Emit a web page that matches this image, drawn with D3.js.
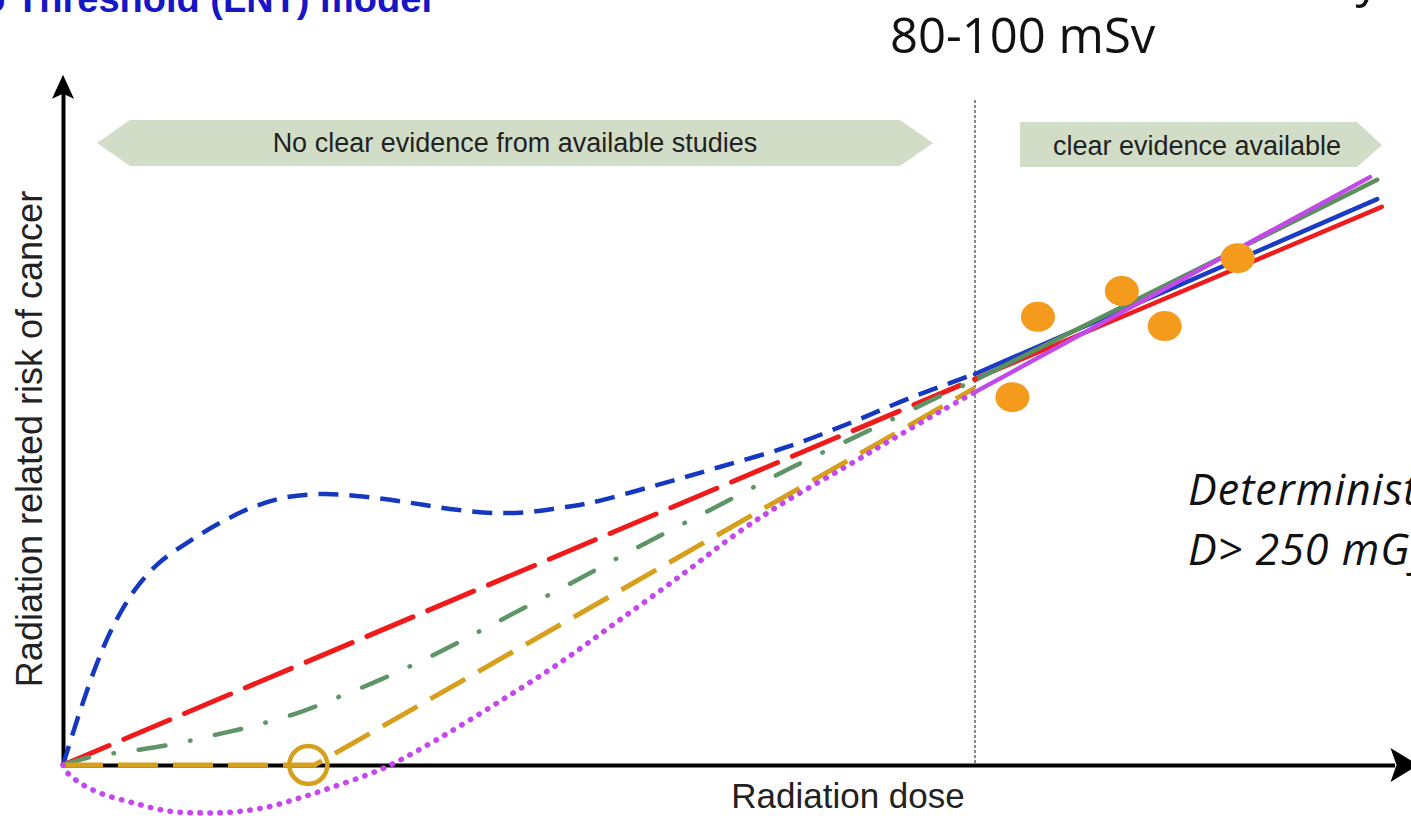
<!DOCTYPE html>
<html>
<head>
<meta charset="utf-8">
<script src="https://cdn.jsdelivr.net/npm/d3@7"></script>
<style>
body { margin: 0; background: #fff; }
svg { display: block; }
</style>
</head>
<body>
<script>
const WIDTH = 1411;
const HEIGHT = 816;

// low-dose models (dashed part, dose 0..100)
var blueDose = [0, 1.9, 3.7, 5.2, 6.8, 8.4, 10.6, 13.9, 17.2, 20.8, 24.6, 28.5, 32.2, 35.9, 39.5, 43.2, 47.1, 50.9, 54.5, 57.8, 65.1, 72, 79.4, 86.3, 92.9, 100];
var blueRisk = [0, 14.2, 26.2, 34.5, 41.5, 47, 52.5, 58, 62.7, 66.8, 69.4, 70.2, 69.7, 68.7, 67.4, 66.1, 65.3, 65.5, 66.6, 67.9, 72.5, 77.2, 82.4, 88.6, 95.1, 101.3];
var redDose = [0, 100];
var redRisk = [0, 100];
var greenDose = [0, 3, 7.3, 12.1, 16.7, 21.3, 26, 30, 34.5, 38.6, 42.8, 47, 55.3, 63.5, 71.8, 80, 88.5, 96.9, 100];
var greenRisk = [0, 2.1, 3.6, 5.4, 7.8, 10.4, 13.7, 17.4, 21.8, 26.2, 31.1, 36.3, 46.6, 57, 67.1, 77.2, 86.8, 96.4, 99.6];
var goldDose = [0, 27.6, 100];
var goldRisk = [0, 0, 97.7];
var purpleDose = [0, 0.4, 1.9, 4.1, 7.7, 11.4, 15, 18.6, 22.4, 26, 29.6, 33.3, 35.9, 41.3, 47.9, 54.5, 60.7, 67.7, 74.2, 79.4, 86, 91, 96.5, 100];
var purpleRisk = [0, -1.8, -4.7, -7.3, -9.8, -11.9, -12.4, -12.2, -10.9, -8.5, -5.7, -2.6, 0, 7, 16.5, 26.5, 37, 49, 60.5, 68.5, 77.5, 84.5, 92, 96.6];
var thresholdDose = 26.9;

// high-dose fits (solid part)
var blueHighDose = [100, 144.1];
var blueHighRisk = [101.3, 146.6];
var redHighDose = [100, 144.6];
var redHighRisk = [100, 144.6];
var greenHighDose = [100, 144.1];
var greenHighRisk = [99.7, 151.6];
var purpleHighDose = [100, 143.3];
var purpleHighRisk = [96.6, 152.3];

// observed data points
var pointDose = [104.1, 106.9, 116.1, 120.8, 128.8];
var pointRisk = [95.3, 116.1, 122.8, 113.7, 131.3];

var evidenceDose = 100;
var bannerLabels = ['No clear evidence from available studies', 'clear evidence available'];

var svg = d3.select('body').append('svg')
    .attr('width', WIDTH)
    .attr('height', HEIGHT)
    .style('background', '#fff');

var xScale = d3.scaleLinear()
    .domain([0, 146])
    .range([63, 63 + 146 * 9.12]);
var yScale = d3.scaleLinear()
    .domain([0, 176])
    .range([765, 765 - 176 * 3.86]);

var makeLine = function (curve) {
    return d3.line()
        .x(function (d) { return xScale(d[0]); })
        .y(function (d) { return yScale(d[1]); })
        .curve(curve);
};

// header texts
svg.append('text')
    .attr('x', 432)
    .attr('y', 12)
    .attr('text-anchor', 'end')
    .attr('font-family', 'Liberation Sans, Arial, sans-serif')
    .attr('font-weight', 'bold')
    .attr('font-size', 38)
    .attr('fill', '#1616c4')
    .text('Linear No Threshold (LNT) model');
svg.append('text')
    .attr('x', 1380)
    .attr('y', -4)
    .attr('text-anchor', 'end')
    .attr('font-family', 'Open Sans, sans-serif')
    .attr('font-size', 49)
    .attr('fill', '#111')
    .text('uncertainty');
svg.append('text')
    .attr('x', 890)
    .attr('y', 53)
    .attr('font-family', 'Open Sans, sans-serif')
    .attr('font-size', 49)
    .attr('fill', '#111')
    .text('80-100 mSv');

// banners
var bTop = 120, bBot = 166, bMid = 143;
var leftBanner = [[97, bMid], [130, bTop], [900, bTop], [933, bMid], [900, bBot], [130, bBot]];
var rightBanner = [[1020, bTop + 2], [1357, bTop + 2], [1382, bMid + 2], [1357, bBot + 1], [1020, bBot + 1]];
svg.selectAll('path.banner')
    .data([leftBanner, rightBanner])
    .enter()
    .append('path')
    .classed('banner', true)
    .attr('d', function (d) { return 'M' + d.join('L') + 'Z'; })
    .attr('fill', '#d2ddc7');
svg.selectAll('text.banner')
    .data(bannerLabels)
    .enter()
    .append('text')
    .classed('banner', true)
    .attr('x', function (d, i) { return i === 0 ? 515 : 1197; })
    .attr('y', function (d, i) { return i === 0 ? 152 : 155; })
    .attr('text-anchor', 'middle')
    .attr('font-family', 'Liberation Sans, Arial, sans-serif')
    .attr('font-size', 27)
    .attr('fill', '#222')
    .text(function (d) { return d; });

// evidence boundary
svg.append('line')
    .attr('x1', xScale(evidenceDose))
    .attr('x2', xScale(evidenceDose))
    .attr('y1', 100)
    .attr('y2', yScale(0))
    .attr('stroke', '#888')
    .attr('stroke-width', 2)
    .attr('stroke-dasharray', '3,2');

// axes
svg.append('g')
    .attr('transform', 'translate(0,' + yScale(0) + ')')
    .call(d3.axisBottom(xScale).tickValues([]).tickSizeOuter(0));
svg.append('g')
    .attr('transform', 'translate(' + xScale(0) + ',0)')
    .call(d3.axisLeft(yScale).tickValues([]).tickSizeOuter(0));
svg.selectAll('.domain')
    .attr('stroke', '#000')
    .attr('stroke-width', 4);
svg.append('path')
    .attr('d', 'M0,0L11,24L0,19L-11,24Z')
    .attr('transform', 'translate(' + xScale(0) + ',' + (yScale(176) - 11) + ')')
    .attr('fill', '#000');
svg.append('path')
    .attr('d', 'M0,0L-28,-17L-22,0L-28,17Z')
    .attr('transform', 'translate(' + (xScale(146) + 24) + ',' + yScale(0) + ')')
    .attr('fill', '#000');

// axis titles
svg.append('text')
    .attr('x', 848)
    .attr('y', 808)
    .attr('text-anchor', 'middle')
    .attr('font-family', 'Liberation Sans, Arial, sans-serif')
    .attr('font-size', 35)
    .attr('fill', '#222')
    .text('Radiation dose');
svg.append('text')
    .attr('transform', 'translate(42,439) rotate(-90)')
    .attr('text-anchor', 'middle')
    .attr('font-family', 'Liberation Sans, Arial, sans-serif')
    .attr('font-size', 36)
    .attr('fill', '#222')
    .text('Radiation related risk of cancer');

// solid high-dose lines
var solid = [
    {d: redHighDose, r: redHighRisk, c: '#ee1c1c'},
    {d: blueHighDose, r: blueHighRisk, c: '#1a3cc4'},
    {d: greenHighDose, r: greenHighRisk, c: '#5c8f5e'},
    {d: purpleHighDose, r: purpleHighRisk, c: '#c24ae8'}
];
svg.selectAll('path.solid')
    .data(solid)
    .enter()
    .append('path')
    .classed('solid', true)
    .attr('d', function (s) { return makeLine(d3.curveLinear)(d3.zip(s.d, s.r)); })
    .attr('fill', 'none')
    .attr('stroke', function (s) { return s.c; })
    .attr('stroke-width', 4.5)
    .attr('stroke-linecap', 'round');

// dashed low-dose models
var dashed = [
    {d: blueDose, r: blueRisk, c: '#1538c0', dash: '20,11', cap: 'butt', w: 4.5, curve: d3.curveCatmullRom},
    {d: redDose, r: redRisk, c: '#ef1b1b', dash: '50,16', cap: 'round', w: 5, curve: d3.curveLinear},
    {d: greenDose, r: greenRisk, c: '#5e9466', dash: '27,25,0.5,25', cap: 'round', w: 4.5, curve: d3.curveCatmullRom},
    {d: goldDose, r: goldRisk, c: '#d6a01c', dash: '40,15', cap: 'butt', w: 5, curve: d3.curveLinear},
    {d: purpleDose, r: purpleRisk, c: '#c548ee', dash: '0.5,9.5', cap: 'round', w: 5.5, curve: d3.curveCatmullRom}
];
svg.selectAll('path.dashed')
    .data(dashed)
    .enter()
    .append('path')
    .classed('dashed', true)
    .attr('d', function (s) { return makeLine(s.curve)(d3.zip(s.d, s.r)); })
    .attr('fill', 'none')
    .attr('stroke', function (s) { return s.c; })
    .attr('stroke-width', function (s) { return s.w; })
    .attr('stroke-dasharray', function (s) { return s.dash; })
    .attr('stroke-linecap', function (s) { return s.cap; });

// threshold marker
svg.append('circle')
    .attr('cx', xScale(thresholdDose))
    .attr('cy', yScale(0))
    .attr('r', 19)
    .attr('fill', 'none')
    .attr('stroke', '#d6a01c')
    .attr('stroke-width', 4.5);

// data points
svg.selectAll('ellipse')
    .data(d3.zip(pointDose, pointRisk))
    .enter()
    .append('ellipse')
    .attr('cx', function (d) { return xScale(d[0]); })
    .attr('cy', function (d) { return yScale(d[1]); })
    .attr('rx', 17)
    .attr('ry', 15)
    .attr('fill', '#f49a1c');

// deterministic note
svg.selectAll('text.note')
    .data(['Deterministic effects', 'D> 250 mGy'])
    .enter()
    .append('text')
    .classed('note', true)
    .attr('x', 1188)
    .attr('y', function (d, i) { return 505 + i * 60; })
    .attr('font-family', 'Open Sans, sans-serif')
    .attr('font-style', 'italic')
    .attr('font-size', 43)
    .attr('letter-spacing', 1)
    .attr('fill', '#111')
    .text(function (d) { return d; });
</script>
</body>
</html>
